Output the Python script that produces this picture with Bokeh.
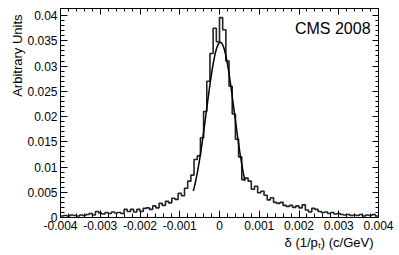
import numpy as np
from bokeh.plotting import figure
from bokeh.models import (Range1d, LinearAxis, FixedTicker, Title, Label,
                          CustomLabelingPolicy)
from bokeh.embed import file_html
from bokeh.resources import INLINE

# ---------------- data ----------------
hist_lo = -0.004
hist_hi = 0.004
# bin contents (units of 1e-3), 100 equal bins from -0.004 to 0.004
counts_e3 = [
    0.3, 0.4, 0.3, 0.5, 0.4, 0.3, 0.5, 0.4, 0.6, 0.8,
    0.5, 1.2, 0.9, 0.7, 1.0, 0.8, 1.1, 0.9, 1.0, 0.8,
    1.6, 1.2, 1.6, 1.1, 1.6, 1.2, 1.8, 1.9, 1.6, 2.3,
    1.9, 2.8, 2.4, 3.2, 2.9, 3.8, 3.6, 4.8, 4.3, 5.8,
    7.2, 8.4, 11.5, 12.2, 15.8, 21.0, 27.0, 32.5, 37.5, 34.8,
    39.6, 37.2, 31.0, 26.0, 20.5, 15.5, 12.0, 7.5, 7.8, 7.2,
    5.6, 6.2, 4.9, 5.2, 4.4, 3.5, 3.9, 3.0, 2.8, 3.0,
    2.4, 2.2, 2.4, 2.0, 2.3, 1.9, 2.5, 1.5, 1.1, 1.8,
    1.6, 1.2, 1.0, 1.1, 0.8, 1.0, 0.7, 0.8, 0.6, 0.5,
    0.6, 0.4, 0.5, 0.4, 0.6, 0.3, 0.5, 0.4, 0.6, 0.3,
]
# Gaussian fit parameters
fit_amp = 0.0347
fit_mean = 0.00002
fit_sigma = 0.00035
fit_lo = -0.00066
fit_hi = 0.00064

x_ticks = [-0.004, -0.003, -0.002, -0.001, 0.0, 0.001, 0.002, 0.003, 0.004]
x_tick_labels = ["-0.004", "-0.003", "-0.002", "-0.001", "0", "0.001", "0.002", "0.003", "0.004"]
y_ticks = [0.0, 0.005, 0.01, 0.015, 0.02, 0.025, 0.03, 0.035, 0.04]
y_tick_labels = ["0", "0.005", "0.01", "0.015", "0.02", "0.025", "0.03", "0.035", "0.04"]

x_title = "δ (1/pₜ) (c/GeV)"
y_title = "Arbitrary Units"
tag = "CMS 2008"

# ---------------- derived ----------------
vals = np.array(counts_e3) * 1e-3
edges = np.linspace(hist_lo, hist_hi, len(vals) + 1)
step_y = np.append(vals, vals[-1])
fx = np.linspace(fit_lo, fit_hi, 200)
fy = fit_amp * np.exp(-0.5 * ((fx - fit_mean) / fit_sigma) ** 2)


def minor_of(ticks, n=5):
    out = []
    for a, b in zip(ticks[:-1], ticks[1:]):
        for k in range(1, n):
            out.append(a + (b - a) * k / n)
    return out


FONT = "Liberation Sans"

p = figure(width=396, height=252, output_backend="svg", toolbar_location=None,
           x_range=Range1d(-0.004, 0.004), y_range=Range1d(0, 0.0414),
           min_border_left=60, min_border_right=18, min_border_top=8, min_border_bottom=35)
p.grid.visible = False
p.outline_line_color = "black"
p.outline_line_width = 1
p.background_fill_color = "white"
p.border_fill_color = "white"

xt = FixedTicker(ticks=x_ticks, minor_ticks=minor_of(x_ticks))
yt = FixedTicker(ticks=y_ticks, minor_ticks=minor_of(y_ticks))

for ax, tk, labs in ((p.xaxis[0], xt, x_tick_labels), (p.yaxis[0], yt, y_tick_labels)):
    ax.ticker = tk
    ax.major_label_overrides = {t: l for t, l in zip(tk.ticks, labs)}
    ax.major_tick_in = 7
    ax.major_tick_out = 0
    ax.minor_tick_in = 4
    ax.minor_tick_out = 0
    ax.axis_line_color = "black"
    ax.major_tick_line_color = "black"
    ax.minor_tick_line_color = "black"
    ax.major_label_text_font = FONT
    ax.major_label_text_font_size = "12px"
    ax.major_label_text_color = "black"
    ax.major_label_standoff = 3

hide_all = CustomLabelingPolicy(code="""
    const all = [...indices]
    for (const i of all) indices.unset(i)
    return indices
""")

for loc, tk in (("above", xt), ("right", yt)):
    ax = LinearAxis(ticker=tk, major_label_policy=hide_all, major_label_standoff=0,
                    major_label_text_font_size="1px",
                    major_tick_in=6, major_tick_out=0, minor_tick_in=3, minor_tick_out=0,
                    axis_line_color="black", major_tick_line_color="black",
                    minor_tick_line_color="black")
    p.add_layout(ax, loc)

p.add_layout(Title(text=y_title, align="right", offset=6, standoff=0, text_font=FONT,
                   text_font_size="13px", text_font_style="normal", text_color="black"), "left")
p.add_layout(Title(text=x_title, align="right", offset=5, standoff=0, text_font=FONT,
                   text_font_size="13px", text_font_style="normal", text_color="black"), "below")

p.step(edges, step_y, mode="after", line_color="#222222", line_width=1.6)
p.line(fx, fy, line_color="black", line_width=1.5)

p.add_layout(Label(x=0.0038, y=0.0374, text=tag, text_align="right",
                   text_baseline="alphabetic", text_font=FONT, text_font_size="16px",
                   text_color="black"))

open("out.html", "w").write(file_html(p, INLINE))
